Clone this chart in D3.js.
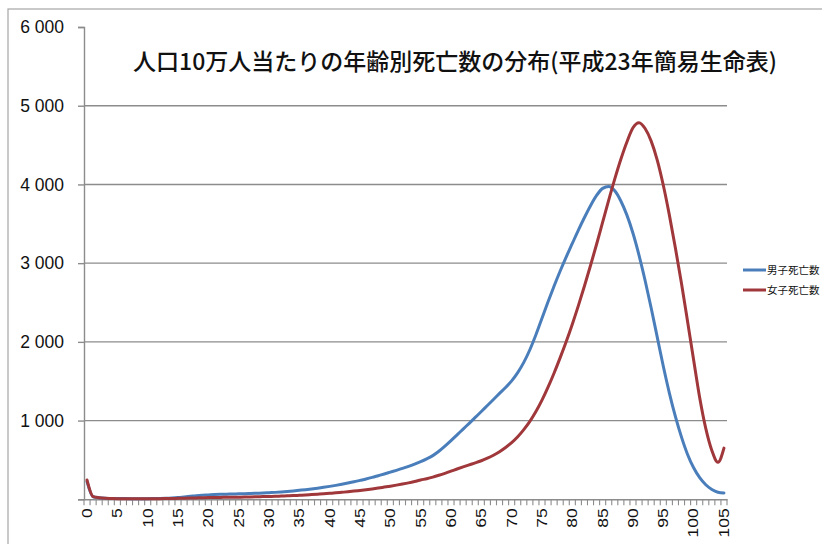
<!DOCTYPE html>
<html><head><meta charset="utf-8">
<script src="https://cdn.jsdelivr.net/npm/d3@7"></script>
<style>
html,body{margin:0;padding:0;background:#fff;overflow:hidden;}
svg{display:block;}
</style></head>
<body>
<svg id="chart" width="822" height="544"></svg>
<script>
const ages = d3.range(0, 106);
const title = "人口10万人当たりの年齢別死亡数の分布(平成23年簡易生命表)";
const seriesNames = ["男子死亡数", "女子死亡数"];
const yTicks = [1000, 2000, 3000, 4000, 5000, 6000];
const xLabelAges = [0,5,10,15,20,25,30,35,40,45,50,55,60,65,70,75,80,85,90,95,100,105];

const male = [
 225,32,20,14,11,10,9,8,8,8,
 8,9,10,12,16,22,30,38,46,52,
 56,60,63,65,67,69,71,74,77,80,
 84,88,93,99,106,114,122,131,141,152,
 164,177,191,206,222,240,258,278,300,322,
 345,368,392,418,446,478,514,555,610,675,
 745,818,892,965,1040,1115,1192,1268,1345,1420,
 1505,1610,1740,1900,2090,2300,2510,2710,2900,3080,
 3250,3420,3580,3730,3860,3950,3975,3920,3790,3610,
 3380,3100,2780,2430,2060,1690,1350,1050,790,570,
 400,275,185,125,90,80];

const female = [
 245,35,20,13,10,8,8,8,8,8,
 8,8,8,9,10,12,14,16,18,20,
 22,23,24,25,26,27,28,30,32,34,
 36,38,41,44,47,51,55,60,65,70,
 76,82,89,96,104,113,122,132,143,155,
 167,180,194,209,226,245,262,282,305,330,
 357,385,412,438,463,490,522,560,605,658,
 720,795,885,990,1115,1260,1425,1605,1800,2005,
 2225,2460,2710,2970,3240,3520,3800,4070,4320,4540,
 4720,4785,4710,4550,4310,3990,3610,3190,2740,2260,
 1770,1290,900,620,470,650];

const svg = d3.select("#chart");
const L = 84, R = 727, T = 27, B = 499.3;

// outer border
svg.append("rect").attr("x", 8).attr("y", 9).attr("width", 830).attr("height", 560)
  .attr("fill", "#fff").attr("stroke", "#a6a6a6").attr("stroke-width", 1.2);

const x = d3.scaleBand().domain(ages).range([L, R]).padding(0);
const y = d3.scaleLinear().domain([0, 6000]).range([B, T]);

const loc = d3.formatLocale({decimal: ".", thousands: " ", grouping: [3], currency: ["", ""]});
const fmt = loc.format(",");

// gridlines (no top gridline)
svg.append("g").selectAll("line").data(yTicks.filter(v => v < 6000)).join("line")
  .attr("x1", L).attr("x2", R).attr("y1", d => y(d)).attr("y2", d => y(d))
  .attr("stroke", "#8c8c8c").attr("stroke-width", 1.4);

// y axis
const yAxis = svg.append("g").attr("transform", `translate(${L},0)`)
  .call(d3.axisLeft(y).tickValues([0].concat(yTicks)).tickSize(6).tickPadding(14)
    .tickFormat(d => d === 0 ? "" : fmt(d)));
yAxis.select(".domain").attr("stroke", "#8c8c8c").attr("stroke-width", 1.4);
yAxis.selectAll(".tick line").attr("stroke", "#8c8c8c").attr("stroke-width", 1.4);
yAxis.selectAll(".tick text").attr("fill", "#111")
  .style("font-family", "'Liberation Sans', Arial, sans-serif").style("font-size", "17.5px");

// x axis
const xAxis = svg.append("g").attr("transform", `translate(0,${B})`)
  .call(d3.axisBottom(x).tickValues(xLabelAges).tickSize(0).tickPadding(10));
xAxis.select(".domain").attr("stroke", "#8c8c8c").attr("stroke-width", 1.4);
xAxis.selectAll(".tick text")
  .style("font-family", "'Liberation Sans', Arial, sans-serif").style("font-size", "14px").attr("fill", "#111")
  .attr("text-anchor", "end").attr("dominant-baseline", "central")
  .attr("transform", "rotate(-90) translate(-9,0) scale(1.25,1)")
  .attr("x", 0).attr("y", 0).attr("dy", null);
// minor tick marks at category boundaries
svg.append("g").selectAll("line").data(ages.concat([106])).join("line")
  .attr("x1", d => d === 106 ? R : x(d)).attr("x2", d => d === 106 ? R : x(d))
  .attr("y1", B).attr("y2", B + 6)
  .attr("stroke", "#8c8c8c").attr("stroke-width", 1.1);

// lines
const line = d3.line().x((d, i) => x(ages[i]) + x.bandwidth() / 2).y(d => y(d)).curve(d3.curveMonotoneX);
const colors = ["#4a7ebb", "#a0373a"];
[male, female].forEach((s, k) => {
  svg.append("path").datum(s).attr("d", line).attr("fill", "none")
    .attr("stroke", colors[k]).attr("stroke-width", 3).attr("stroke-linejoin", "round").attr("stroke-linecap", "round");
});

// title
svg.append("text").attr("x", 455).attr("y", 70).attr("text-anchor", "middle")
  .style("font-family", "'Noto Sans CJK JP', sans-serif").style("font-size", "23px").style("font-weight", "500")
  .attr("fill", "#111").text(title);

// legend
const lg = svg.append("g");
seriesNames.forEach((n, k) => {
  const yy = 270 + k * 20;
  lg.append("line").attr("x1", 743).attr("x2", 766).attr("y1", yy).attr("y2", yy)
    .attr("stroke", colors[k]).attr("stroke-width", 3);
  lg.append("text").attr("x", 767).attr("y", yy + 4)
    .style("font-family", "'Noto Sans CJK JP', sans-serif").style("font-size", "10.5px")
    .attr("fill", "#111").text(n);
});
</script>
</body></html>
